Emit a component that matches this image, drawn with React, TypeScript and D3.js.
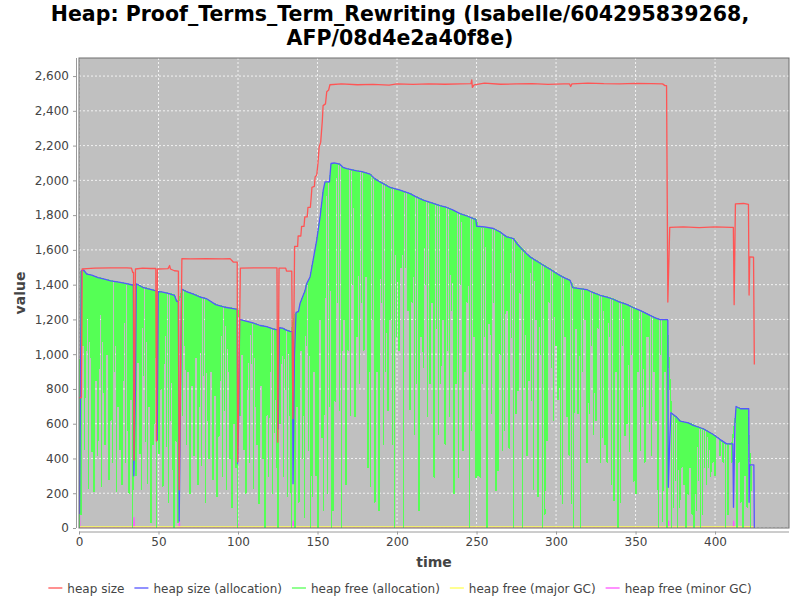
import { useEffect, useRef } from 'react';
import * as d3 from 'd3';

type Pt = [number, number];
// spike: [time, top value, bottom value]
type Spike = [number, number, number];

const titleLines = ['Heap: Proof_Terms_Term_Rewriting (Isabelle/604295839268,', 'AFP/08d4e2a40f8e)'];

const heapSize: Pt[] = [
  [0, 750], [1.5, 750], [2, 1490], [5, 1492], [10, 1495], [20, 1497], [30, 1497], [33, 1495],
  [33.8, 1470], [34.3, 1470], [34.6, 390], [35.5, 1490], [40, 1495], [45, 1493], [48.3, 1493],
  [48.7, 500], [49.3, 1490], [56, 1492], [57, 1510], [57.5, 1490], [60, 1480], [62.5, 1478],
  [63, 220], [64.7, 1550], [70, 1548], [80, 1550], [90, 1548], [95, 1550], [97, 1530], [99.5, 1530],
  [99.8, 380], [101.5, 1495], [110, 1497], [120, 1497], [124.5, 1497], [125, 494], [125.8, 1495],
  [130, 1495], [130.5, 1478], [133.8, 1478], [134.5, 630], [135.6, 1620], [137.5, 1620],
  [137.8, 1680], [139.5, 1680], [140, 1735], [141.5, 1735], [142, 1790], [143.5, 1790],
  [144, 1845], [145.5, 1845], [146, 1900], [146.5, 1960], [148, 1965], [148.5, 2020], [149.5, 2030],
  [150.3, 2100], [151, 2190], [152, 2220], [153, 2340], [153.5, 2430], [155, 2440], [155.8, 2510],
  [157, 2520], [157.8, 2550], [165, 2555], [175, 2550], [185, 2552], [195, 2548], [200, 2555],
  [210, 2552], [220, 2555], [230, 2553], [240, 2555], [246.5, 2556], [247, 2578], [247.4, 2535],
  [248.5, 2550], [255, 2560], [265, 2553], [275, 2555], [285, 2556], [295, 2552], [305, 2555],
  [308.5, 2555], [309.2, 2540], [310, 2555], [320, 2560], [330, 2556], [340, 2555], [350, 2558],
  [360, 2556], [367, 2555], [368.5, 2545], [369.5, 2545], [370.3, 1300], [371.5, 1730],
  [380, 1732], [390, 1728], [400, 1732], [410, 1730], [411.5, 1730], [412, 1285], [412.8, 1865],
  [418, 1867], [421, 1862], [421.4, 1340], [421.8, 1560], [424.2, 1558], [424.7, 940],
];

const heapAlloc: Pt[] = [
  [0.3, 80], [1.5, 1480], [3, 1483], [5, 1460], [8, 1455], [12, 1440], [16, 1432], [20, 1422],
  [25, 1415], [30, 1406], [33.5, 1398], [34.2, 1398], [34.5, 300], [35.5, 800], [36, 1405],
  [40, 1385], [43, 1377], [48, 1365], [48.8, 1365], [49.2, 505], [49.8, 1360], [52, 1358],
  [56, 1350], [60, 1339], [61.4, 1305], [62.5, 1300], [63, 40], [63.8, 700], [64.5, 1375],
  [68, 1358], [72, 1345], [76, 1329], [80, 1320], [86, 1285], [92, 1270], [97, 1262], [99.5, 1258],
  [99.8, 370], [100.5, 660], [101, 1200], [105, 1190], [110, 1178], [114, 1165], [118, 1158],
  [122, 1145], [124.8, 1140], [125.3, 570], [126, 1152], [128, 1150], [130, 1140], [132.7, 1131],
  [134.2, 1130], [134.6, 255], [135.5, 1000], [136.5, 1240], [138, 1245], [139, 1291], [141, 1339],
  [142, 1360], [143.2, 1406], [145.3, 1444], [147.4, 1550], [149.5, 1656], [151.6, 1790],
  [153.6, 1944], [154.7, 1991], [157.5, 1991], [158.5, 2097], [160.5, 2100], [164, 2093],
  [166, 2075], [168.4, 2068], [174.7, 2055], [178, 2050], [183, 2036], [186, 2010], [189.3, 1991],
  [195.6, 1959], [201.9, 1944], [208.2, 1924], [212, 1905], [216.5, 1886], [222.8, 1867],
  [227, 1855], [231.3, 1844], [235, 1830], [239.6, 1809], [244, 1795], [248, 1780], [249.5, 1775],
  [250.1, 1736], [255, 1732], [260.6, 1723], [264.8, 1703], [269, 1675], [273.2, 1665],
  [275.3, 1637], [279, 1600], [283.6, 1560], [288, 1535], [292, 1512], [296, 1490], [300.4, 1464],
  [304, 1445], [308.8, 1425], [310.5, 1383], [319.3, 1372], [323, 1355], [327.7, 1339], [332, 1328],
  [336, 1316], [340, 1300], [344.4, 1287], [348, 1270], [352.8, 1252], [356, 1238], [359.1, 1223],
  [362, 1210], [365.4, 1199], [370.3, 1199], [370.6, 234], [371.5, 500], [372.2, 663], [375.8, 638],
  [378, 615], [383.2, 605], [386.3, 590], [392.6, 571], [398.9, 538], [403, 510], [407.3, 484],
  [411.2, 484], [411.6, 119], [412.5, 600], [413.2, 699], [416, 686], [421.2, 686], [421.4, 148],
  [421.8, 363], [424.4, 363], [424.7, 0],
];

const freeSpikes: Spike[] = [
  [1.2, 1475, 80], [2.4, 1478, 1050], [3.5, 1470, 450], [4.6, 1462, 1020], [5.8, 1458, 230],
  [7.0, 1456, 980], [8.2, 1452, 440], [9.3, 1448, 210], [10.5, 1444, 850], [11.7, 1440, 420],
  [12.9, 1438, 920], [14.0, 1436, 240], [15.2, 1432, 780], [16.4, 1430, 480], [17.5, 1428, 1000],
  [18.7, 1425, 280], [19.9, 1422, 620], [21.0, 1420, 380], [22.2, 1418, 900], [23.4, 1416, 210],
  [24.5, 1414, 700], [25.7, 1412, 450], [26.9, 1410, 250], [28.0, 1408, 850], [29.2, 1406, 380],
  [30.4, 1404, 560], [31.5, 1402, 200], [32.7, 1400, 740], [33.7, 1398, 0],
  [35.8, 1400, 300], [37.0, 1398, 950], [38.2, 1392, 430], [39.3, 1388, 220], [40.5, 1385, 880],
  [41.7, 1382, 500], [42.9, 1378, 260], [44.0, 1375, 700], [45.2, 1372, 30], [46.4, 1370, 480],
  [47.5, 1367, 600], [48.6, 1365, 0],
  [50.2, 1358, 430], [51.4, 1357, 800], [52.6, 1356, 240], [53.8, 1354, 950], [55.0, 1352, 470],
  [56.2, 1350, 150], [57.4, 1347, 620], [58.6, 1344, 340], [59.8, 1340, 0], [61.0, 1310, 500],
  [62.2, 1300, 30],
  [65.0, 1370, 650], [66.2, 1365, 1050], [67.4, 1360, 480], [68.6, 1356, 900], [69.8, 1352, 200],
  [71.0, 1348, 820], [72.2, 1345, 420], [73.4, 1340, 980], [74.6, 1335, 250], [75.8, 1330, 700],
  [77.0, 1327, 360], [78.2, 1324, 880], [79.4, 1320, 150], [80.6, 1315, 620], [81.8, 1308, 400],
  [83.0, 1300, 900], [84.2, 1293, 280], [85.4, 1288, 760], [86.6, 1282, 180], [87.8, 1280, 530],
  [89.0, 1278, 850], [90.2, 1275, 300], [91.4, 1272, 680], [92.6, 1270, 220], [93.8, 1268, 900],
  [95.0, 1266, 400], [96.2, 1264, 120], [97.4, 1262, 600], [98.6, 1260, 350], [99.6, 1258, 0],
  [101.2, 1195, 650], [102.4, 1193, 1000], [103.6, 1190, 450], [104.8, 1188, 200], [106.0, 1186, 800],
  [107.2, 1183, 380], [108.4, 1180, 950], [109.6, 1177, 230], [110.8, 1175, 700], [112.0, 1170, 480],
  [113.2, 1166, 140], [114.4, 1164, 820], [115.6, 1162, 400], [116.8, 1160, 0], [118.0, 1157, 650],
  [119.2, 1154, 300], [120.4, 1150, 900], [121.6, 1147, 200], [122.8, 1144, 550], [124.0, 1141, 350],
  [125.0, 1140, 0],
  [126.2, 1150, 600], [127.4, 1148, 950], [128.6, 1146, 300], [129.8, 1140, 800], [131.0, 1136, 180],
  [132.2, 1132, 650], [133.4, 1130, 0],
  [135.8, 1230, 0], [137.0, 1240, 700], [138.2, 1250, 150], [139.4, 1300, 1020], [140.6, 1330, 400],
  [141.8, 1355, 60], [143.0, 1400, 1050], [144.2, 1420, 450], [145.4, 1445, 0], [146.6, 1510, 180],
  [147.8, 1560, 900], [149.0, 1630, 300], [150.2, 1700, 0], [151.4, 1780, 1200], [152.6, 1860, 520],
  [153.8, 1950, 100], [155.0, 1985, 1330], [156.2, 1988, 200], [157.4, 1990, 700], [158.6, 2090, 0],
  [159.6, 2095, 100], [161.0, 2098, 730], [162.4, 2095, 1300], [163.7, 2093, 680], [165.1, 2080, 0],
  [166.5, 2072, 1200], [167.8, 2068, 250], [169.2, 2065, 1022], [170.6, 2062, 650], [172.0, 2060, 1400],
  [173.4, 2056, 640], [174.8, 2055, 1100], [176.2, 2052, 830], [177.6, 2050, 1300], [179.0, 2046, 1022],
  [180.4, 2042, 1450], [181.7, 2038, 350], [183.1, 2035, 240], [184.5, 2020, 1200], [185.9, 2010, 150],
  [187.3, 2002, 900], [188.7, 1995, 100], [190.0, 1988, 1300], [191.4, 1982, 480], [192.8, 1975, 900],
  [194.2, 1965, 676], [195.6, 1959, 1200], [197.0, 1955, 480], [198.4, 1952, 4], [199.7, 1948, 1100],
  [201.1, 1945, 1022], [202.5, 1940, 1500], [203.9, 1936, 0], [205.3, 1932, 1500], [206.7, 1928, 1250],
  [208.0, 1924, 680], [209.4, 1918, 1300], [210.8, 1910, 540], [212.2, 1905, 830], [213.6, 1898, 100],
  [215.0, 1892, 1100], [216.4, 1886, 926], [217.7, 1882, 1400], [219.1, 1876, 640], [220.5, 1872, 830],
  [221.9, 1869, 1300], [223.3, 1866, 292], [224.7, 1862, 1150], [226.0, 1858, 542], [227.4, 1854, 830],
  [228.8, 1850, 1200], [230.2, 1846, 484], [231.6, 1843, 1022], [233.0, 1838, 640], [234.3, 1832, 1250],
  [235.7, 1826, 200], [237.1, 1818, 830], [238.5, 1812, 292], [239.9, 1808, 1400], [241.3, 1803, 446],
  [242.7, 1798, 900], [244.0, 1794, 1300], [245.4, 1790, 0], [246.8, 1784, 560], [248.2, 1779, 1100],
  [249.6, 1776, 292],
  [250.8, 1734, 300], [252.2, 1732, 293], [253.6, 1730, 830], [255.0, 1728, 1100], [256.4, 1726, 0],
  [257.8, 1724, 1176], [259.2, 1723, 657], [260.6, 1722, 1300], [262.0, 1715, 215], [263.4, 1708, 331],
  [264.8, 1703, 1000], [266.2, 1693, 445], [267.6, 1682, 561], [269.0, 1675, 1250], [270.4, 1672, 460],
  [271.8, 1668, 1100], [273.2, 1665, 0], [274.6, 1648, 657], [276.0, 1632, 790], [277.4, 1620, 1350],
  [278.8, 1602, 0], [280.2, 1590, 810], [281.6, 1575, 420], [283.0, 1565, 850], [284.4, 1555, 734],
  [285.8, 1548, 220], [287.2, 1540, 1200], [288.6, 1532, 180], [290.0, 1525, 1000], [291.4, 1515, 0],
  [292.8, 1508, 80], [294.2, 1500, 505], [295.6, 1492, 1300], [297.0, 1485, 926], [298.4, 1478, 620],
  [299.8, 1468, 1050], [301.2, 1460, 740], [302.6, 1452, 196], [304.0, 1445, 140], [305.4, 1438, 1100],
  [306.8, 1432, 640], [308.2, 1427, 420], [309.6, 1410, 140], [311.0, 1382, 0], [312.4, 1380, 1150],
  [313.8, 1378, 660], [315.2, 1376, 0], [316.6, 1374, 900], [318.0, 1373, 1200], [319.4, 1371, 380],
  [320.8, 1365, 657], [322.2, 1358, 1050], [323.6, 1354, 538], [325.0, 1348, 620], [326.4, 1343, 1150],
  [327.8, 1339, 380], [329.2, 1335, 520], [330.6, 1331, 480], [332.0, 1328, 380], [333.4, 1324, 1100],
  [334.8, 1320, 250], [336.2, 1316, 158], [337.6, 1310, 900], [339.0, 1304, 0], [340.4, 1300, 150],
  [341.8, 1295, 1050], [343.2, 1290, 530], [344.6, 1286, 600], [346.0, 1279, 440], [347.4, 1272, 1000],
  [348.8, 1266, 270], [350.2, 1260, 200], [351.6, 1255, 900], [353.0, 1250, 450], [354.4, 1245, 700],
  [355.8, 1240, 380], [357.2, 1232, 1100], [358.6, 1225, 600], [360.0, 1219, 420], [361.4, 1212, 900],
  [362.8, 1206, 620], [364.2, 1202, 0], [365.6, 1199, 1000], [367.0, 1199, 40], [368.4, 1199, 900],
  [369.6, 1199, 0],
  [372.5, 660, 0], [373.8, 650, 119], [375.1, 640, 273], [376.4, 630, 0], [377.7, 618, 119],
  [379.0, 612, 350], [380.3, 608, 250], [381.6, 606, 0], [382.9, 605, 196], [384.2, 600, 350],
  [385.5, 595, 80], [386.8, 590, 0], [388.1, 585, 100], [389.4, 580, 273], [390.7, 575, 0],
  [392.0, 572, 80], [393.3, 565, 350], [394.6, 560, 250], [395.9, 552, 350], [397.2, 545, 300],
  [398.5, 538, 380], [400.0, 530, 300], [403.0, 510, 420], [405.0, 495, 380], [406.5, 486, 0],
  [408.0, 484, 80], [410.5, 484, 380],
  [413.6, 695, 0], [414.9, 690, 380], [416.2, 688, 150], [417.5, 686, 0], [418.8, 686, 300],
  [420.1, 686, 120], [422.3, 355, 0],
];

const majorGC: Pt[] = [[0, 6], [100, 6], [200, 6], [300, 6], [400, 6], [424.7, 6]];

const minorGC: Pt[] = [
  [0, 0], [0.3, 90], [0.6, 0], [34.4, 0], [34.6, 60], [34.8, 0], [62.9, 0], [63.1, 50], [63.3, 0],
  [99.7, 0], [99.9, 30], [100.1, 0], [134.5, 0], [134.7, 40], [134.9, 0], [370.5, 0], [370.7, 40],
  [370.9, 0], [411.5, 0], [411.7, 40], [411.9, 0], [424.7, 0],
];

const xTicks = [0, 50, 100, 150, 200, 250, 300, 350, 400];
const yTicks = [0, 200, 400, 600, 800, 1000, 1200, 1400, 1600, 1800, 2000, 2200, 2400, 2600];

const seriesNames = ['heap size', 'heap size (allocation)', 'heap free (allocation)', 'heap free (major GC)', 'heap free (minor GC)'];
const seriesColors = ['#ff5555', '#5555ff', '#55ff55', '#ffff55', '#ff55ff'];

const FONT = '"DejaVu Sans", Verdana, sans-serif';

const App = () => {
  const svgRef = useRef<SVGSVGElement>(null);

  useEffect(() => {
    if (!svgRef.current) return;
    const root = d3.select(svgRef.current);
    root.selectAll('*').remove();

    const left = 79, right = 789, top = 58, bottom = 528;

    const x = d3.scaleLinear().domain([0, 446.5]).range([left, right]);
    const y = d3.scaleLinear().domain([0, 2704]).range([bottom, top]);

    // Title
    titleLines.forEach((t, i) => {
      root.append('text')
        .attr('x', 400).attr('y', 21 + i * 23.5)
        .attr('text-anchor', 'middle')
        .attr('font-family', FONT).attr('font-weight', 'bold').attr('font-size', 20.5)
        .attr('fill', '#000')
        .text(t);
    });

    // Plot background
    root.append('rect')
      .attr('x', left).attr('y', top).attr('width', right - left).attr('height', bottom - top)
      .attr('fill', '#c0c0c0');

    // Grid
    const grid = root.append('g').attr('stroke', '#ffffff').attr('stroke-width', 0.8).attr('stroke-dasharray', '2,2');
    xTicks.forEach(t => {
      grid.append('line').attr('x1', x(t)).attr('x2', x(t)).attr('y1', top).attr('y2', bottom);
    });
    yTicks.forEach(t => {
      grid.append('line').attr('x1', left).attr('x2', right).attr('y1', y(t)).attr('y2', y(t));
    });

    root.append('defs').append('clipPath').attr('id', 'plotClip')
      .append('rect').attr('x', left).attr('y', top).attr('width', right - left).attr('height', bottom - top);

    const plot = root.append('g').attr('clip-path', 'url(#plotClip)');

    const line = d3.line<Pt>().x(d => x(d[0])).y(d => y(d[1]));

    // each spike drawn as a vertical drop from its top to its bottom and back
    const freePts: Pt[] = [[0, 0]];
    freeSpikes.forEach(([t, hi, lo]) => {
      freePts.push([t, hi]);
      freePts.push([t + 0.1, lo]);
      freePts.push([t + 0.2, hi]);
    });

    // draw order: last legend series first, heap size on top
    const series: Pt[][] = [heapSize, heapAlloc, freePts, majorGC, minorGC];
    for (let i = series.length - 1; i >= 0; i--) {
      const p = plot.append('path')
        .datum(series[i])
        .attr('fill', 'none')
        .attr('stroke', seriesColors[i])
        .attr('stroke-width', i === 2 ? 1.5 : 1.3)
        .attr('stroke-linejoin', 'round')
        .attr('d', line);
      if (i === 2) p.attr('shape-rendering', 'crispEdges');
    }

    // Plot outline
    root.append('rect')
      .attr('x', left).attr('y', top).attr('width', right - left).attr('height', bottom - top)
      .attr('fill', 'none').attr('stroke', '#6e6e6e').attr('stroke-width', 1);

    // Axes
    const xAxis = root.append('g').attr('transform', `translate(0,${bottom + 3.5})`);
    xAxis.call(d3.axisBottom(x).tickValues(xTicks).tickSize(3).tickPadding(3).tickFormat(d3.format('d')));
    const yAxis = root.append('g').attr('transform', `translate(${left - 3},0)`);
    yAxis.call(d3.axisLeft(y).tickValues(yTicks).tickSize(3).tickPadding(4).tickFormat(d3.format(',')));
    [xAxis, yAxis].forEach(a => {
      a.select('.domain').attr('stroke', '#9a9a9a');
      a.selectAll('.tick line').attr('stroke', '#9a9a9a');
      a.selectAll('.tick text').attr('fill', '#444').attr('font-size', 12).attr('font-family', FONT);
    });
    xAxis.select('.domain').attr('d', `M${left},0.5H${right}`);
    yAxis.select('.domain').attr('d', `M0.5,${top}V${bottom}`);

    // Axis labels
    root.append('text')
      .attr('x', (left + right) / 2).attr('y', 567)
      .attr('text-anchor', 'middle')
      .attr('font-family', FONT).attr('font-weight', 'bold').attr('font-size', 14)
      .attr('fill', '#444')
      .text('time');
    root.append('text')
      .attr('transform', `translate(25,${(top + bottom) / 2}) rotate(-90)`)
      .attr('text-anchor', 'middle')
      .attr('font-family', FONT).attr('font-weight', 'bold').attr('font-size', 14)
      .attr('fill', '#444')
      .text('value');

    // Legend
    const legend = root.append('g');
    const items: { g: d3.Selection<SVGGElement, unknown, null, undefined>; w: number }[] = [];
    seriesNames.forEach((name, i) => {
      const g = legend.append('g');
      g.append('line').attr('x1', 0).attr('x2', 14).attr('y1', 0).attr('y2', 0)
        .attr('stroke', seriesColors[i]).attr('stroke-width', 1.3);
      const txt = g.append('text').attr('x', 19).attr('y', 4.5)
        .attr('font-family', FONT).attr('font-size', 12).attr('fill', '#444')
        .text(name);
      const w = 19 + (txt.node() as SVGTextElement).getComputedTextLength();
      items.push({ g, w });
    });
    const gap = 10;
    const total = items.reduce((s, it) => s + it.w, 0) + gap * (items.length - 1);
    let cx = 400 - total / 2;
    items.forEach(it => {
      it.g.attr('transform', `translate(${cx},588)`);
      cx += it.w + gap;
    });
  }, []);

  return (
    <svg
      ref={svgRef}
      width={800}
      height={600}
      style={{ position: 'absolute', left: 0, top: 0, background: '#fff' }}
    />
  );
};

export default App;
